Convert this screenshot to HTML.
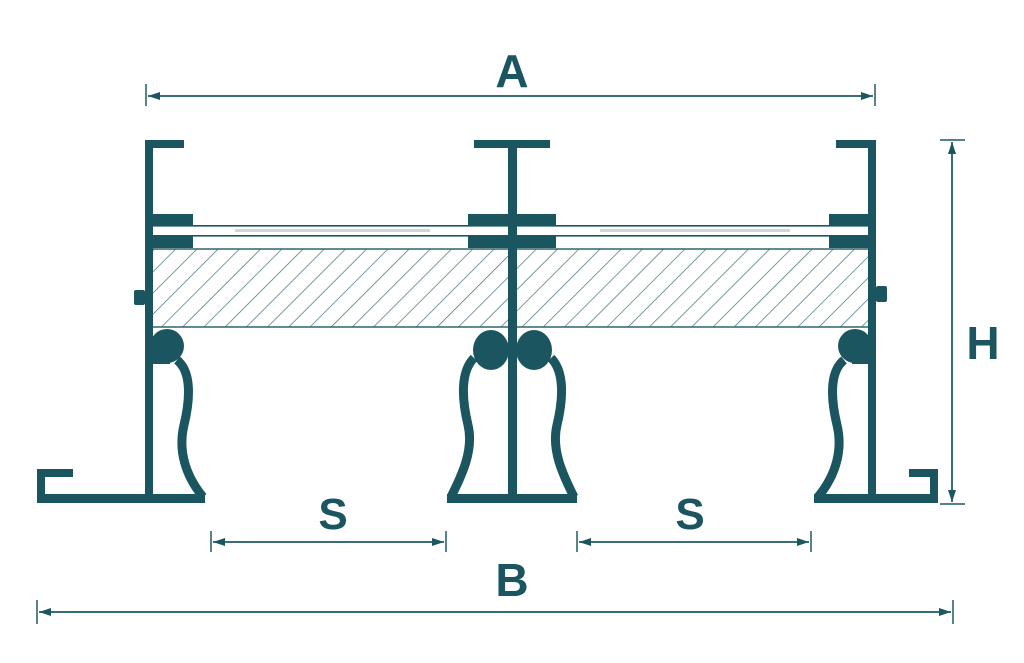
<!DOCTYPE html>
<html><head><meta charset="utf-8"><style>
html,body{margin:0;padding:0;background:#fff;}
svg{display:block;}
text{font-family:"Liberation Sans",sans-serif;font-weight:bold;fill:#1a5560;}
</style></head><body>
<svg width="1024" height="663" viewBox="0 0 1024 663" xmlns="http://www.w3.org/2000/svg">
<defs>
<pattern id="h" patternUnits="userSpaceOnUse" width="15" height="15" patternTransform="rotate(45)">
<line x1="0" y1="0" x2="0" y2="15" stroke="#3f7178" stroke-width="1.4"/>
</pattern>
<marker id="ar" markerWidth="12" markerHeight="8" refX="12" refY="4" orient="auto" markerUnits="userSpaceOnUse">
<path d="M0,0 L12,4 L0,8 Z" fill="#1a5560"/>
</marker>
</defs>
<g fill="#1a5560">
<rect x="153" y="249" width="715" height="78" fill="url(#h)"/>
<line x1="153" y1="249" x2="868" y2="249" stroke="#2f6670" stroke-width="1.5"/>
<line x1="153" y1="327" x2="868" y2="327" stroke="#2f6670" stroke-width="1.5"/>
<rect x="153" y="225" width="715" height="1.6"/>
<rect x="153" y="235" width="715" height="1.6"/>
<rect x="235" y="229" width="195" height="3" fill="#cdd8da"/>
<rect x="600" y="229" width="190" height="3" fill="#cdd8da"/>
<!-- left -->
<rect x="145" y="140" width="8" height="363"/>
<rect x="145" y="140" width="39" height="8"/>
<rect x="153" y="214" width="40" height="12"/>
<rect x="153" y="236" width="40" height="12"/>
<rect x="134" y="290" width="11" height="15" rx="2"/>
<rect x="37" y="494" width="168" height="9"/>
<rect x="37" y="469" width="8" height="34"/>
<rect x="37" y="469" width="36" height="8"/>
<circle cx="167" cy="346" r="17"/>
<rect x="150" y="340" width="20" height="24"/>
<path d="M177,360 C192,372 190,400 184,425 C178,450 185,475 203,497" fill="none" stroke="#1a5560" stroke-width="9"/>
<!-- right -->
<rect x="868" y="140" width="8" height="363"/>
<rect x="836" y="140" width="40" height="8"/>
<rect x="829" y="214" width="39" height="12"/>
<rect x="829" y="236" width="39" height="12"/>
<rect x="876" y="286" width="11" height="16" rx="2"/>
<rect x="814" y="494" width="124" height="9"/>
<rect x="930" y="469" width="8" height="34"/>
<rect x="909" y="469" width="29" height="8"/>
<circle cx="855" cy="346" r="17"/>
<rect x="852" y="340" width="20" height="24"/>
<path d="M844,360 C829,372 831,400 837,425 C843,450 836,475 818,497" fill="none" stroke="#1a5560" stroke-width="9"/>
<!-- center -->
<rect x="508" y="140" width="9" height="363"/>
<rect x="474" y="140" width="76" height="8"/>
<rect x="468" y="214" width="88" height="12"/>
<rect x="468" y="236" width="88" height="12"/>
<rect x="447" y="494" width="130" height="9"/>
<ellipse cx="491" cy="350" rx="18" ry="20"/>
<ellipse cx="534" cy="350" rx="18" ry="20"/>
<path d="M474,358 C460,372 462,400 468,425 C474,450 462,475 451,497" fill="none" stroke="#1a5560" stroke-width="9"/>
<path d="M551,358 C565,372 563,400 557,425 C551,450 563,475 574,497" fill="none" stroke="#1a5560" stroke-width="9"/>
</g>
<g stroke="#1f5a63" stroke-width="1.5" fill="none">
<line x1="146" y1="84" x2="146" y2="106"/><line x1="875" y1="84" x2="875" y2="106"/>
<line x1="148" y1="96" x2="873" y2="96" marker-end="url(#ar)"/>
<line x1="873" y1="96" x2="148" y2="96" marker-end="url(#ar)"/>
<line x1="940" y1="140" x2="965" y2="140"/><line x1="940" y1="504" x2="965" y2="504"/>
<line x1="952" y1="142" x2="952" y2="502" marker-end="url(#ar)"/>
<line x1="952" y1="502" x2="952" y2="142" marker-end="url(#ar)"/>
<line x1="211" y1="531" x2="211" y2="552"/><line x1="446" y1="531" x2="446" y2="552"/>
<line x1="213" y1="542" x2="444" y2="542" marker-end="url(#ar)"/>
<line x1="444" y1="542" x2="213" y2="542" marker-end="url(#ar)"/>
<line x1="577" y1="531" x2="577" y2="552"/><line x1="811" y1="531" x2="811" y2="552"/>
<line x1="579" y1="542" x2="809" y2="542" marker-end="url(#ar)"/>
<line x1="809" y1="542" x2="579" y2="542" marker-end="url(#ar)"/>
<line x1="37" y1="600" x2="37" y2="624"/><line x1="953" y1="600" x2="953" y2="624"/>
<line x1="39" y1="612" x2="951" y2="612" marker-end="url(#ar)"/>
<line x1="951" y1="612" x2="39" y2="612" marker-end="url(#ar)"/>
</g>
<text x="512" y="87" font-size="46" text-anchor="middle">A</text>
<text x="512" y="596" font-size="46" text-anchor="middle">B</text>
<text x="333" y="529" font-size="44" text-anchor="middle">S</text>
<text x="690" y="529" font-size="44" text-anchor="middle">S</text>
<text x="983" y="359" font-size="46" text-anchor="middle">H</text>
</svg>
</body></html>
